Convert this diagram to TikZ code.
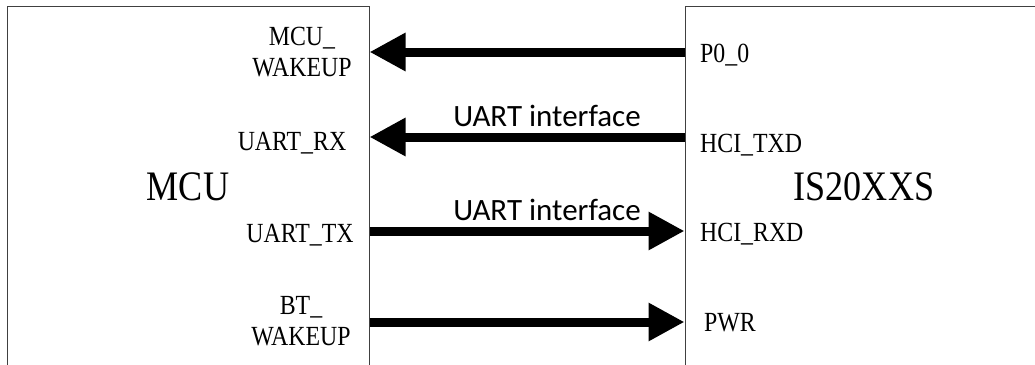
\documentclass[tikz,border=0pt]{standalone}
\usepackage{fontspec}
\usetikzlibrary{arrows.meta}
\newfontfamily\pinf{Liberation Serif}[FakeStretch=0.86]
\newfontfamily\lblf{Carlito}
\begin{document}
\begin{tikzpicture}[x=1pt,y=-1pt,
  box/.style={draw=black!75,line width=1pt,rectangle,inner sep=0pt},
  pin/.style={font=\pinf\fontsize{27.7}{31}\selectfont,inner sep=0pt,align=center},
  chip/.style={font=\pinf\fontsize{42}{48}\selectfont,inner sep=0pt},
  iface/.style={font=\lblf\fontsize{31}{36}\selectfont,inner sep=0pt},
  sig/.style={line width=9pt,-{Triangle[length=36pt,width=36pt]},shorten >=0pt}
]
\useasboundingbox (0,0) rectangle (1035,364);
\clip (0,0) rectangle (1035,364);
\node[box,minimum width=362pt,minimum height=374pt] (mcu) at (188,193) {};
\node[box,minimum width=362pt,minimum height=374pt] (is) at (866,193) {};
\node[chip,anchor=base] (mcut) at (188,200) {MCU};
\node[chip,anchor=base] (ist) at (864,200) {IS20XXS};
% pins left
\node[pin,anchor=base] (mw) at (302,76) {MCU\_\\WAKEUP};
\node[pin,anchor=base] (urx) at (292,150) {UART\_RX};
\node[pin,anchor=base] (utx) at (300,242) {UART\_TX};
\node[pin,anchor=base] (bw) at (301,345) {BT\_\\WAKEUP};
% pins right
\node[pin,anchor=base west] (p00) at (700,62) {P0\_0};
\node[pin,anchor=base west] (htx) at (700,152) {HCI\_TXD};
\node[pin,anchor=base west] (hrx) at (700,241) {HCI\_RXD};
\node[pin,anchor=base west] (pwr) at (704,331) {PWR};
% pin coordinates on box edges
\coordinate (L1) at (mcu.east |- 0,52);
\coordinate (L2) at (mcu.east |- 0,137);
\coordinate (L3) at (mcu.east |- 0,231);
\coordinate (L4) at (mcu.east |- 0,322);
\coordinate (R1) at (is.west |- 0,52);
\coordinate (R2) at (is.west |- 0,137);
\coordinate (R3) at (is.west |- 0,231);
\coordinate (R4) at (is.west |- 0,322);
\draw[sig] (R1) -- (L1);
\draw[sig] (R2) -- (L2);
\draw[sig] (L3) -- (R3);
\draw[sig] (L4) -- (R4);
\node[iface,anchor=base] (if1) at (547,126) {UART interface};
\node[iface,anchor=base] (if2) at (547,220) {UART interface};
\end{tikzpicture}
\end{document}
